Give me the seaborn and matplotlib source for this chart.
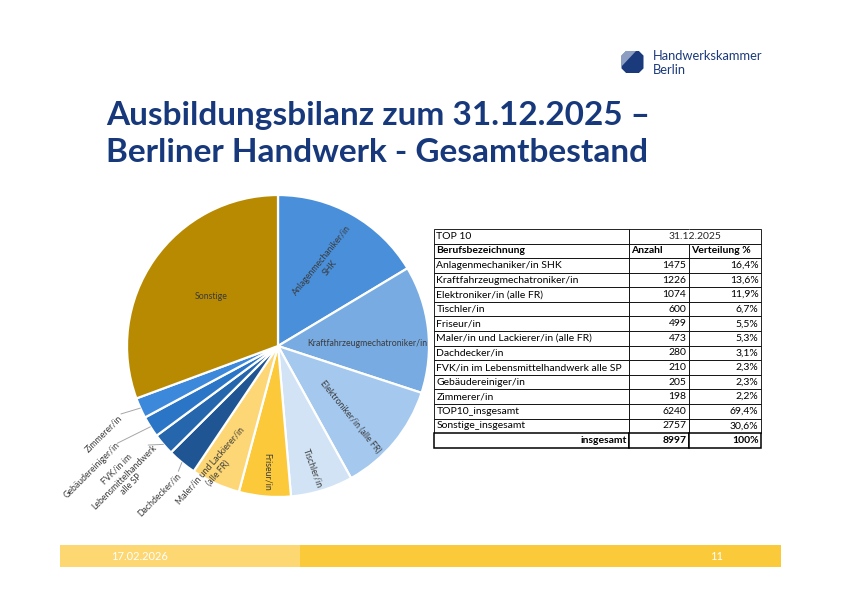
"""Ausbildungsbilanz Berliner Handwerk: Top-10 pie + table."""
import matplotlib
matplotlib.use("Agg")
import matplotlib.pyplot as plt
import numpy as np
import seaborn as sns
from matplotlib.patches import Polygon, Rectangle

sns.set_theme(style="white")
plt.rcParams["font.family"] = ["Lato", "DejaVu Sans"]

# ============================================================
# Data
# ============================================================
BERUFE = [
    "Anlagenmechaniker/in SHK",
    "Kraftfahrzeugmechatroniker/in",
    "Elektroniker/in (alle FR)",
    "Tischler/in",
    "Friseur/in",
    "Maler/in und Lackierer/in (alle FR)",
    "Dachdecker/in",
    "FVK/in im Lebensmittelhandwerk alle SP",
    "Gebäudereiniger/in",
    "Zimmerer/in",
]
ANZAHL = [1475, 1226, 1074, 600, 499, 473, 280, 210, 205, 198]
VERTEILUNG = [16.4, 13.6, 11.9, 6.7, 5.5, 5.3, 3.1, 2.3, 2.3, 2.2]
TOP10_ANZAHL, TOP10_PROZ = 6240, 69.4
SONSTIGE_ANZAHL, SONSTIGE_PROZ = 2757, 30.6
GESAMT = 8997

PIE_LABELS = [
    "Anlagenmechaniker/in\nSHK",
    "Kraftfahrzeugmechatroniker/in",
    "Elektroniker/in (alle FR)",
    "Tischler/in",
    "Friseur/in",
    "Maler/in und Lackierer/in\n(alle FR)",
    "Dachdecker/in",
    "FVK/in im\nLebensmittelhandwerk\nalle SP",
    "Gebäudereiniger/in",
    "Zimmerer/in",
    "Sonstige",
]

STAND = "31.12.2025"
DATUM = "17.02.2026"
SEITE = "11"

# ============================================================
# Style
# ============================================================
NAVY = "#17397C"
PIE_COLORS = sns.color_palette([
    "#4A8FDA", "#78ABE2", "#A5C8EE", "#D2E3F5", "#FBC93A", "#FDD775",
    "#1F5593", "#2566AC", "#2A75C6", "#3C88DA", "#B88A02",
])
LABEL_COLOR = "#3A3A3A"
# inside labels: slice index -> (radius fraction, angle offset, rotation)
INSIDE = {0: (0.63, -1, 51), 1: (0.59, -5, 0), 2: (0.67, -5, -51),
          3: (0.84, -1, -70), 4: (0.84, 0, -90), 5: (0.92, -3, 49),
          10: (0.55, -2, 0)}
# outside labels: slice index -> (text centre, leader end) in pie units
OUTSIDE = {6: ((-0.788, -0.987), (-0.66, -0.83)),
           7: ((-1.02, -0.866), (-0.86, -0.656)),
           8: ((-1.232, -0.821), (-1.064, -0.644)),
           9: ((-1.157, -0.583), (-1.040, -0.450))}

W, H = 842, 595
fig = plt.figure(figsize=(W / 100, H / 100), dpi=100)
fig.patch.set_facecolor("white")

# background axes in pixel coordinates (title, logo, footer)
bg = fig.add_axes([0, 0, 1, 1], zorder=0)
bg.set_xlim(0, W)
bg.set_ylim(H, 0)
bg.axis("off")

bg.text(106, 125, "Ausbildungsbilanz zum 31.12.2025 –", fontsize=24,
        fontweight="bold", color=NAVY, va="baseline", ha="left")
bg.text(106, 162, "Berliner Handwerk - Gesamtbestand", fontsize=24,
        fontweight="bold", color=NAVY, va="baseline", ha="left")

# logo
cx, cy, h, c = 632.5, 62.0, 11.0, 4.6
octagon = [(cx - h + c, cy - h), (cx + h - c, cy - h), (cx + h, cy - h + c),
           (cx + h, cy + h - c), (cx + h - c, cy + h), (cx - h + c, cy + h),
           (cx - h, cy + h - c), (cx - h, cy - h + c)]
bg.add_patch(Polygon(octagon, closed=True, color="#1B3A7C", lw=0))
bg.add_patch(Polygon([(cx - h + c, cy - h), (cx + 3.5, cy - h), (cx - h, cy + 4.5),
                      (cx - h, cy - h + c)], closed=True, color="#8C9FC3", lw=0))
bg.text(653, 56, "Handwerkskammer", fontsize=9.3, color="#1B3A7C", va="center")
bg.text(653, 70, "Berlin", fontsize=9.3, color="#1B3A7C", va="center")

# footer bar
bg.add_patch(Rectangle((60, 545), 240, 22, color="#FDD772", lw=0))
bg.add_patch(Rectangle((300, 545), 481, 22, color="#FBCA3A", lw=0))
bg.text(140, 556, DATUM, fontsize=8, color="white", ha="center", va="center")
bg.text(717, 556, SEITE, fontsize=8, color="white", ha="center", va="center")

# ============================================================
# Pie
# ============================================================
R, PCX, PCY = 151, 278, 346
ax_pie = fig.add_axes([(PCX - R) / W, (H - PCY - R) / H, 2 * R / W, 2 * R / H], zorder=2)
pie_vals = ANZAHL + [SONSTIGE_ANZAHL]
wedges, _ = ax_pie.pie(pie_vals, colors=PIE_COLORS, startangle=90, counterclock=False,
                       wedgeprops=dict(edgecolor="white", linewidth=1.6))
ax_pie.set_xlim(-1, 1)
ax_pie.set_ylim(-1, 1)
ax_pie.set_aspect("equal")
ax_pie.axis("off")

for i, w in enumerate(wedges):
    mid = np.deg2rad((w.theta1 + w.theta2) / 2)
    if i in INSIDE:
        rf, off, rot = INSIDE[i]
        a = mid + np.deg2rad(off)
        ax_pie.text(rf * np.cos(a), rf * np.sin(a), PIE_LABELS[i], fontsize=6.3,
                    color=LABEL_COLOR, ha="center", va="center", rotation=rot,
                    rotation_mode="anchor", multialignment="center")
    else:
        (tx, ty), (lx, ly) = OUTSIDE[i]
        ax_pie.plot([np.cos(mid), lx], [np.sin(mid), ly], color="#A6A6A6",
                    lw=0.7, clip_on=False)
        ax_pie.text(tx, ty, PIE_LABELS[i], fontsize=6.3, color=LABEL_COLOR,
                    ha="center", va="center", rotation=45, rotation_mode="anchor",
                    multialignment="center")

# ============================================================
# Table
# ============================================================
def pct(v):
    return f"{v:.1f}".replace(".", ",") + "%"

rows = [["TOP 10", "", ""], ["Berufsbezeichnung", "Anzahl", "Verteilung %"]]
rows += [[b, str(n), pct(p)] for b, n, p in zip(BERUFE, ANZAHL, VERTEILUNG)]
rows += [["TOP10_insgesamt", str(TOP10_ANZAHL), pct(TOP10_PROZ)],
         ["Sonstige_insgesamt", str(SONSTIGE_ANZAHL), pct(SONSTIGE_PROZ)],
         ["insgesamt", str(GESAMT), "100%"]]
n_rows = len(rows)
col_w = [0.596, 0.183, 0.221]

ax_tab = fig.add_axes([434 / W, (H - 447.7) / H, 327 / W, 218.7 / H], zorder=2)
ax_tab.axis("off")
tab = ax_tab.table(cellText=rows, colWidths=col_w, bbox=[0, 0, 1, 1], cellLoc="left")
tab.auto_set_font_size(False)
pads = [0.012, 0.04, 0.035]
FS = 7.5
for (r, col), cell in tab.get_celld().items():
    cell.set_linewidth(0.6)
    cell.set_edgecolor("black")
    cell.PAD = pads[col]
    txt = cell.get_text()
    txt.set_fontsize(FS)
    txt.set_color("black")
    if r >= 2 and col > 0:
        txt.set_horizontalalignment("right")
        cell._loc = "right"
    if r == 1 or r == n_rows - 1:
        txt.set_fontweight("bold")
    if r == n_rows - 1:
        cell.set_linewidth(1.1)
        if col == 0:
            cell._loc = "right"
            txt.set_horizontalalignment("right")
    if r == 0 and col == 1:
        cell.visible_edges = "BTL"
    if r == 0 and col == 2:
        cell.visible_edges = "BTR"

ax_tab.text(col_w[0] + (col_w[1] + col_w[2]) / 2, 1 - 0.5 / n_rows, STAND,
            fontsize=FS, ha="center", va="center", transform=ax_tab.transAxes)

fig.savefig("out.png", dpi=100)
